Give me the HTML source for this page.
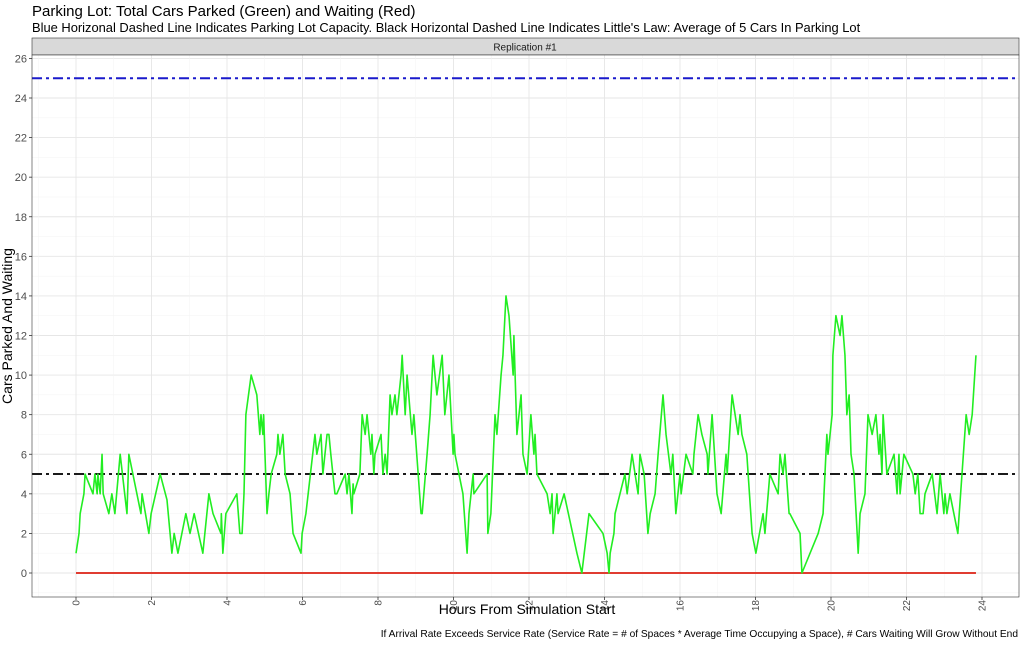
<!DOCTYPE html>
<html><head><meta charset="utf-8"><style>
body{margin:0;background:#fff;font-family:"Liberation Sans",sans-serif}
svg text{font-family:"Liberation Sans",sans-serif}
</style></head><body>
<svg id="chart" width="1024" height="642" xmlns="http://www.w3.org/2000/svg">
<text x="32" y="16" font-size="15" fill="#000">Parking Lot: Total Cars Parked (Green) and Waiting (Red)</text>
<text x="32" y="32" font-size="12.9" fill="#000">Blue Horizonal Dashed Line Indicates Parking Lot Capacity.  Black Horizontal Dashed Line Indicates Little's Law: Average of 5 Cars In Parking Lot</text>
<rect x="32" y="38" width="987" height="17" fill="#d9d9d9" stroke="#333" stroke-width="0.6"/>
<text x="525" y="50.5" font-size="10" text-anchor="middle" fill="#1a1a1a">Replication #1</text>
<g id="grid"></g>
<g id="marks"></g>
<rect x="32" y="55" width="987" height="542" fill="none" stroke="#333" stroke-width="0.6"/>
<g id="axes"></g>
<text x="527" y="614" font-size="14" text-anchor="middle">Hours From Simulation Start</text>
<text transform="translate(12,326) rotate(-90)" font-size="14" text-anchor="middle">Cars Parked And Waiting</text>
<text x="1018" y="637" font-size="10.2" text-anchor="end">If Arrival Rate Exceeds Service Rate (Service Rate = # of Spaces * Average Time Occupying a Space), # Cars Waiting Will Grow Without End</text>
</svg>
<script>
const hours=[0,.08,.11,.21,.24,.45,.5,.56,.58,.64,.69,.72,.87,.95,1.03,1.17,1.35,1.4,1.72,1.75,1.93,1.99,2.23,2.41,2.54,2.6,2.7,2.91,3.02,3.13,3.36,3.52,3.63,3.84,3.85,3.89,3.97,4.26,4.34,4.4,4.45,4.5,4.64,4.79,4.87,4.9,4.95,4.97,5.06,5.11,5.17,5.32,5.35,5.4,5.48,5.54,5.67,5.75,5.96,5.99,6.09,6.33,6.38,6.49,6.54,6.65,6.7,6.75,6.86,6.91,7.13,7.18,7.23,7.31,7.34,7.36,7.52,7.58,7.66,7.71,7.81,7.84,7.89,7.92,8.08,8.13,8.19,8.24,8.32,8.37,8.45,8.5,8.61,8.64,8.72,8.77,8.9,8.95,9.14,9.17,9.3,9.38,9.46,9.56,9.7,9.77,9.88,9.99,10.01,10.04,10.25,10.36,10.41,10.52,10.54,10.89,10.91,10.99,11.1,11.15,11.26,11.31,11.39,11.47,11.58,11.6,11.68,11.79,11.84,11.95,12.05,12.13,12.16,12.21,12.48,12.56,12.61,12.64,12.74,12.77,12.93,13.27,13.4,13.59,13.96,14.07,14.12,14.15,14.25,14.28,14.54,14.6,14.73,14.89,14.94,15.05,15.15,15.21,15.34,15.42,15.55,15.63,15.76,15.81,15.89,16,16.03,16.16,16.34,16.37,16.48,16.58,16.72,16.74,16.85,16.98,17.09,17.22,17.25,17.38,17.54,17.59,17.64,17.77,17.91,18.01,18.2,18.25,18.38,18.6,18.65,18.73,18.78,18.89,18.91,19.18,19.23,19.66,19.79,19.89,19.92,20.03,20.05,20.13,20.24,20.29,20.37,20.42,20.48,20.53,20.61,20.72,20.77,20.9,20.98,21.09,21.19,21.27,21.3,21.35,21.38,21.48,21.67,21.75,21.8,21.83,21.93,22.17,22.23,22.3,22.36,22.44,22.49,22.68,22.81,22.89,22.99,23.02,23.07,23.15,23.36,23.58,23.66,23.74,23.84];
const parked=[1,2,3,4,5,4,5,4,5,4,6,4,3,4,3,6,3,6,3,4,2,3,5,3.7,1,2,1,3,2,3,1,4,3,2,3,1,3,4,2,2,4,8,10,9,7,8,7,8,3,4,5,6,7,6,7,5,4,2,1,2,3,7,6,7,5,7,7,6,4,4,5,4,5,3,4.5,4,5,8,7,8,6,7,5,6,7,5,6,5,9,8,9,8,10,11,8,10,7,8,3,3,6,8,11,9,11,8,10,6,7,6,4,1,3,5,4,5,2,3,8,7,10,11,14,13,10,12,7,9,6,5,8,6,7,5,4,3,4,2,4,3,4,1,0,3,2,1,0,1,2,3,5,4,6,4,6,5,2,3,4,6,9,7,5,6,3,5,4,6,5,6,8,7,6,5,8,4,3,6,5,9,7,8,7,6,2,1,3,2,5,4,6,5,6,3,3,2,0,2,3,7,6,8,11,13,12,13,11,8,9,6,5,1,3,4,8,7,8,6,7,5,8,5,6,4,6,4,6,5,4,5,3,3,4,5,3,5,3,4,3,4,2,8,7,8,11];
const waitingHours=[0,23.84];
const waiting=[0,0];
const capacity=25;
const littlesLaw=5;
const yTicks=[0,2,4,6,8,10,12,14,16,18,20,22,24,26];
const xTicks=[0,2,4,6,8,10,12,14,16,18,20,22,24];

const NS="http://www.w3.org/2000/svg";
const X0=32,X1=1019,Y0=55,Y1=597;
const xs=h=>76+h*(982-76)/24;
const ys=v=>573-v*(573-98)/24;
function mk(tag,attrs,parent){const e=document.createElementNS(NS,tag);for(const k in attrs)e.setAttribute(k,attrs[k]);parent.appendChild(e);return e;}
const grid=document.getElementById('grid'),marks=document.getElementById('marks'),axes=document.getElementById('axes');
mk('rect',{x:X0,y:Y0,width:X1-X0,height:Y1-Y0,fill:'#fff'},grid);
for(let v=-1;v<=27;v++){const y=ys(v);if(y<Y0||y>Y1)continue;const major=v%2===0;
 const l=mk('line',{x1:X0,x2:X1,y1:y,y2:y,stroke:major?'#e6e6e6':'#f3f3f3','stroke-width':major?0.9:0.5},grid);
 }
for(let h=-1;h<=25;h++){const x=xs(h);if(x<X0||x>X1)continue;const major=h%2===0;
 const l=mk('line',{x1:x,x2:x,y1:Y0,y2:Y1,stroke:major?'#e6e6e6':'#f3f3f3','stroke-width':major?0.9:0.5},grid);
 }
yTicks.forEach(v=>{const y=ys(v);
 const t=mk('line',{x1:X0-3,x2:X0,y1:y,y2:y,stroke:'#333','stroke-width':0.8},axes);
 
 const lb=mk('text',{x:X0-5,y:y+4,'font-size':11,'text-anchor':'end',fill:'#4d4d4d'},axes);lb.textContent=v;
 });
xTicks.forEach(h=>{const x=xs(h);
 const t=mk('line',{x1:x,x2:x,y1:Y1,y2:Y1+3,stroke:'#333','stroke-width':0.8},axes);
 
 const lb=mk('text',{transform:`translate(${x+3.5},${Y1+3}) rotate(-90)`,'font-size':10,'text-anchor':'end',fill:'#4d4d4d'},axes);lb.textContent=h;
 });
const cap=mk('line',{x1:X0,x2:X1,y1:ys(capacity),y2:ys(capacity),stroke:'#1a1acc','stroke-width':2,'stroke-dasharray':'10 4 3 4'},marks);

const ll=mk('line',{x1:X0,x2:X1,y1:ys(littlesLaw),y2:ys(littlesLaw),stroke:'#1a1a1a','stroke-width':2,'stroke-dasharray':'10 4 3 4'},marks);

const rp=mk('polyline',{points:waitingHours.map((h,i)=>xs(h)+','+ys(waiting[i])).join(' '),fill:'none',stroke:'#e03c31','stroke-width':2},marks);

const gp=mk('polyline',{points:hours.map((h,i)=>xs(h)+','+ys(parked[i])).join(' '),fill:'none',stroke:'#22ee22','stroke-width':1.6,'stroke-linejoin':'round'},marks);

</script>
</body></html>
